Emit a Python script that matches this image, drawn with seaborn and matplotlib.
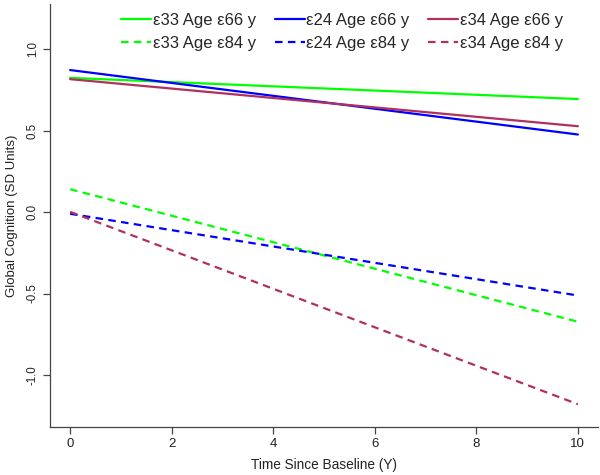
import matplotlib
matplotlib.use("Agg")
import matplotlib.pyplot as plt
import seaborn as sns
import pandas as pd
from matplotlib.lines import Line2D

# Data
time_points = [0, 10]
groups = ["ε33 Age ε66 y", "ε24 Age ε66 y", "ε34 Age ε66 y",
          "ε33 Age ε84 y", "ε24 Age ε84 y", "ε34 Age ε84 y"]
e33_66 = [0.825, 0.695]
e24_66 = [0.873, 0.477]
e34_66 = [0.817, 0.528]
e33_84 = [0.141, -0.673]
e24_84 = [-0.010, -0.512]
e34_84 = [0.002, -1.180]
series = [e33_66, e24_66, e34_66, e33_84, e24_84, e34_84]
x_ticks = [0, 2, 4, 6, 8, 10]
y_ticks = [-1.0, -0.5, 0.0, 0.5, 1.0]
y_tick_labels = ["-1.0", "-0.5", "0.0", "0.5", "1.0"]

rows = []
for g, vals in zip(groups, series):
    for t, v in zip(time_points, vals):
        rows.append({"time": t, "value": v, "group": g})
df = pd.DataFrame(rows)

colors = {groups[0]: "#00FF00", groups[1]: "#0000FF", groups[2]: "#B03060",
          groups[3]: "#00FF00", groups[4]: "#0000FF", groups[5]: "#B03060"}
dash_pat = (3.4, 2.4)
dashes = {groups[0]: "", groups[1]: "", groups[2]: "",
          groups[3]: dash_pat, groups[4]: dash_pat, groups[5]: dash_pat}

sns.set_style("white")
plt.rcParams["font.family"] = ["Liberation Sans", "DejaVu Sans"]

fig = plt.figure(figsize=(6, 4.75), dpi=100)
ax = fig.add_axes([0.083, 0.101, 0.914, 0.891])

sns.lineplot(data=df, x="time", y="value", hue="group", style="group",
             hue_order=groups, style_order=groups,
             palette=colors, dashes=dashes, linewidth=1.6, ax=ax, legend=False)

ax.set_xlim(-0.4, 10.4)
ax.set_ylim(-1.32, 1.28)
ax.set_xticks(x_ticks)
ax.set_xticklabels([str(t) for t in x_ticks])
ax.set_yticks(y_ticks)
ax.set_yticklabels(y_tick_labels, rotation=90, va="center")
ax.tick_params(axis="both", direction="out", length=5, width=0.9, color="#444444",
               labelcolor="#222222", bottom=True, left=True, pad=3)
ax.tick_params(axis="x", labelsize=9.5)
ax.tick_params(axis="y", labelsize=8.3)
for s in ["top", "right"]:
    ax.spines[s].set_visible(False)
for s in ["left", "bottom"]:
    ax.spines[s].set_color("#444444")
    ax.spines[s].set_linewidth(0.9)

ax.set_xlabel("Time Since Baseline (Y)", fontsize=9.8, color="#222222", labelpad=6)
ax.set_ylabel("Global Cognition (SD Units)", fontsize=9.5, color="#222222", labelpad=6)

order = [0, 3, 1, 4, 2, 5]
handles = []
for i in order:
    ls = "-" if i < 3 else (0, dash_pat)
    handles.append(Line2D([0], [0], color=colors[groups[i]], lw=1.6, linestyle=ls))
labels = [groups[i] for i in order]
fig.legend(handles, labels, ncol=3, frameon=False, loc="upper left",
           bbox_to_anchor=(0.183, 0.998), bbox_transform=fig.transFigure,
           fontsize=12, handlelength=1.8, columnspacing=1.1,
           handletextpad=0.1, labelspacing=0.5, borderpad=0.2)

fig.savefig("out.png", dpi=100)
